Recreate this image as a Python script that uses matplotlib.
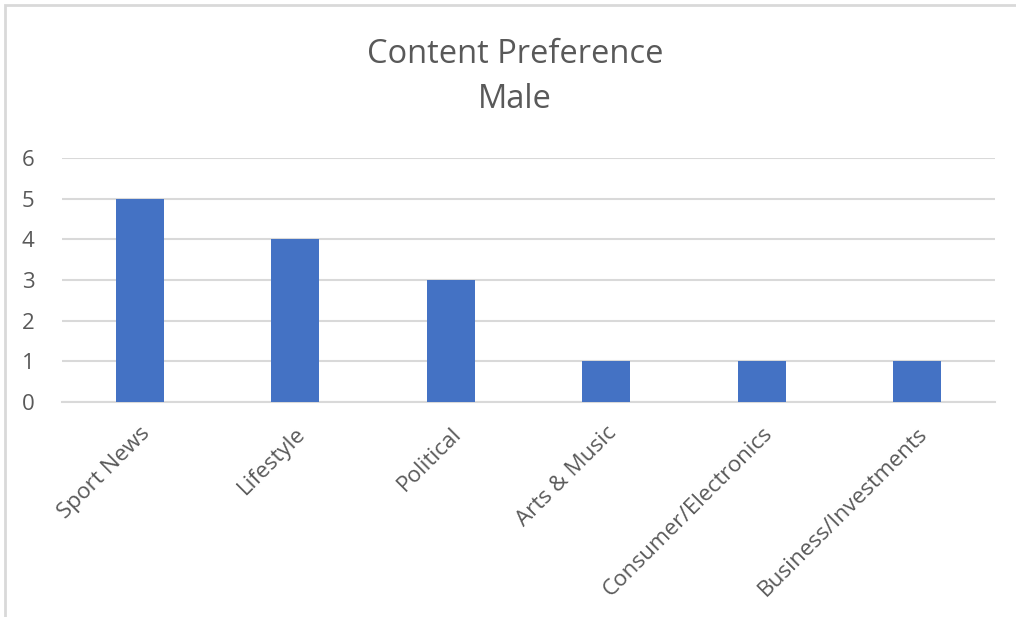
import matplotlib.pyplot as plt
from matplotlib.patches import Rectangle

# data
categories = ["Sport News", "Lifestyle", "Political", "Arts & Music",
              "Consumer/Electronics", "Business/Investments"]
values = [5, 4, 3, 1, 1, 1]

plt.rcParams['font.family'] = ['Open Sans', 'DejaVu Sans']
txt = '#595959'

fig = plt.figure(figsize=(10.16, 6.17), dpi=100)
ax = fig.add_axes([62/1016, 1 - 402/617, 933/1016, 244/617])

x = list(range(len(categories)))
ax.bar(x, values, width=0.31, color='#4472C4', zorder=3)

ax.set_xlim(-0.5, len(categories) - 0.5)
ax.set_ylim(0, 6)
ax.set_yticks(range(0, 7))
ax.yaxis.grid(True, color='#d9d9d9', linewidth=1.5, zorder=0)
ax.set_xticks(x)
ax.set_xticklabels(categories, rotation=45, ha='right', rotation_mode='anchor',
                   fontsize=16.2, color=txt)
ax.tick_params(axis='y', labelsize=16, labelcolor=txt, length=0, pad=20)
ax.tick_params(axis='x', length=0, pad=15)
for s in ['top', 'right', 'left']:
    ax.spines[s].set_visible(False)
ax.spines['bottom'].set_color('#d9d9d9')
ax.spines['bottom'].set_linewidth(1.5)

fig.text(515/1016, 1 - 77/617, "Content Preference\nMale", ha='center', va='center',
         fontsize=23.5, color=txt, linespacing=1.5)

# chart frame
fig.patches.append(Rectangle((5/1016, -0.1), 1.2, 1 - 5/617 + 0.1, transform=fig.transFigure,
                             fill=False, edgecolor='#d9d9d9', linewidth=2))

fig.savefig('out.png', dpi=100)
